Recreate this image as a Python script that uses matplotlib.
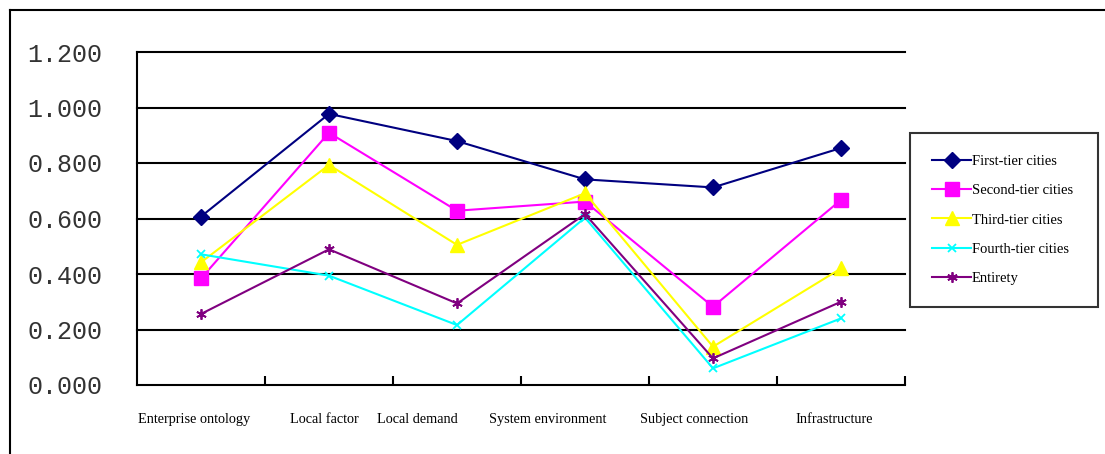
import matplotlib
matplotlib.use("Agg")
import matplotlib.pyplot as plt
from matplotlib.lines import Line2D

# Indicator dimensions along the x axis
categories = ["Enterprise ontology", "Local factor", "Local demand",
              "System environment", "Subject connection", "Infrastructure"]

# Scores for each city tier
first_tier = [0.607, 0.977, 0.879, 0.741, 0.712, 0.854]
second_tier = [0.384, 0.909, 0.628, 0.661, 0.282, 0.667]
third_tier = [0.442, 0.793, 0.505, 0.691, 0.138, 0.420]
fourth_tier = [0.471, 0.394, 0.216, 0.603, 0.060, 0.240]
entirety = [0.256, 0.489, 0.294, 0.616, 0.096, 0.300]

series_names = ["First-tier cities", "Second-tier cities", "Third-tier cities",
                "Fourth-tier cities", "Entirety"]
y_ticks = [0.0, 0.2, 0.4, 0.6, 0.8, 1.0, 1.2]

# Horizontal placement of the category captions (in category units)
label_x = [-0.055, 0.96, 1.69, 2.71, 3.85, 4.95]

W, H, DPI = 1105, 454, 100
fig = plt.figure(figsize=(W / DPI, H / DPI), dpi=DPI)
fig.patch.set_facecolor("white")

left, right, top, bottom = 137, 905, 52, 385
ax = fig.add_axes([left / W, 1 - bottom / H, (right - left) / W, (bottom - top) / H])

x = list(range(len(categories)))
styles = [
    dict(color="#000080", marker="D", ms=8),
    dict(color="#FF00FF", marker="s", ms=9.5),
    dict(color="#FFFF00", marker="^", ms=10),
    dict(color="#00FFFF", marker="x", ms=6, mew=1.3),
    dict(color="#800080", marker=(6, 2, 0), ms=7.5, mew=1.3),
]
handles = []
for vals, name, st in zip([first_tier, second_tier, third_tier, fourth_tier, entirety],
                          series_names, styles):
    st = dict(st)
    mew = st.pop("mew", 1.0)
    ln, = ax.plot(x, vals, lw=1.5, color=st["color"], marker=st["marker"],
                  markersize=st["ms"], markeredgewidth=mew,
                  markerfacecolor=st["color"], markeredgecolor=st["color"],
                  label=name, zorder=3)
    handles.append(ln)

ax.set_xlim(-0.5, len(categories) - 0.5)
ax.set_ylim(0, 1.2)

# Horizontal gridlines
for yv in y_ticks[1:]:
    ax.axhline(yv, color="black", lw=1.5, zorder=1, clip_on=False)

for s in ["top", "right"]:
    ax.spines[s].set_visible(False)
for s in ["left", "bottom"]:
    ax.spines[s].set_linewidth(1.5)
    ax.spines[s].set_color("black")

# Y axis labels
ax.set_yticks(y_ticks)
ax.set_yticklabels([f"{v:.3f}" for v in y_ticks], family="Liberation Mono",
                   fontsize=18, color="#333333")
ax.tick_params(axis="y", length=0, pad=25)

# Category boundary ticks on the x axis
ax.set_xticks([i + 0.5 for i in x])
ax.set_xticklabels([])
ax.tick_params(axis="x", direction="in", length=6.5, width=1.5)

for lx, name in zip(label_x, categories):
    ax.text(lx, -0.125, name, ha="center", va="center", family="Liberation Serif",
            fontsize=10.3, transform=ax.transData, clip_on=False)

# Legend
leg = fig.legend(handles=handles, loc="upper left",
                 bbox_to_anchor=(910 / W, 1 - 305 / H, (1098 - 910) / W, (305 - 133) / H),
                 mode="expand",
                 prop=dict(family="Liberation Serif", size=10.5),
                 frameon=True, fancybox=False, edgecolor="black",
                 handlelength=2.7, handletextpad=0.05, labelspacing=1.1,
                 borderpad=1.5, borderaxespad=0, markerscale=1.0)
leg.get_frame().set_linewidth(1.5)

# Outer frame (top and left edges)
fig.add_artist(Line2D([10 / W, 1.0], [1 - 10 / H, 1 - 10 / H],
                      transform=fig.transFigure, color="black", lw=1.5))
fig.add_artist(Line2D([10 / W, 10 / W], [0.0, 1 - 10 / H],
                      transform=fig.transFigure, color="black", lw=1.5))

fig.savefig("out.png", dpi=DPI, facecolor="white")
